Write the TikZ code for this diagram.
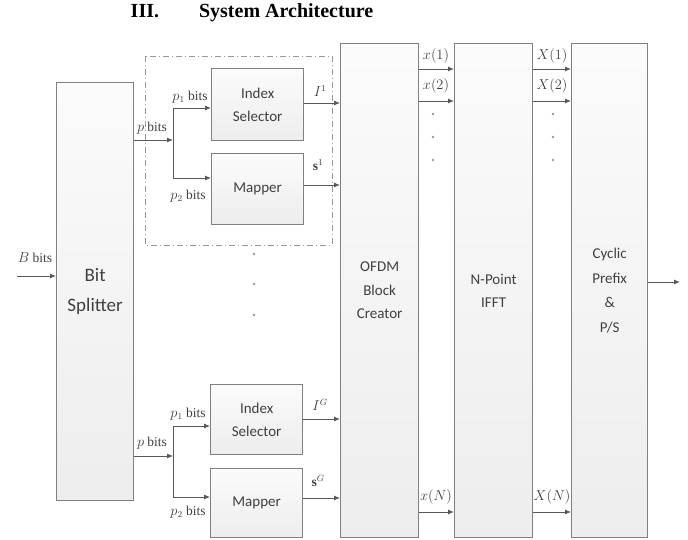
\documentclass[tikz,border=0pt]{standalone}
\usepackage{fontspec}
\setmainfont{Liberation Serif}
\newfontfamily\boxfont{Carlito}
\usetikzlibrary{arrows.meta}
\begin{document}
\begin{tikzpicture}[x=1pt,y=-1pt,
 blk/.style={draw=black!50, line width=1.3pt, top color=gray!3, bottom color=gray!14,
   anchor=north west, inner sep=0pt, align=center,
   font=\boxfont\fontsize{15}{23.5}\selectfont, text=black!75},
 conn/.style={draw=black!65, line width=0.9pt},
 arr/.style={conn, -{Latex[length=6pt,width=5pt]}},
 lbl/.style={font=\fontsize{13.5}{15}\selectfont, text=black!75, inner sep=0pt},
 dotm/.style={circle, fill=black!40, inner sep=0pt, minimum size=2.6pt},
 grp/.style={draw=black!40, line width=0.9pt, dash pattern=on 6pt off 3pt on 1pt off 3pt},
]
\fill[white] (0,0) rectangle (688,540);
\useasboundingbox (0,0) rectangle (688,540);

% title
\node[font=\bfseries\fontsize{20}{24}\selectfont, inner sep=0pt] (title) at (252,13) {III.\hspace{40pt}System Architecture};

% group frame
\draw[grp] (145,56) rectangle (332,245);

% blocks
\node[blk, minimum width=77pt, minimum height=418pt, font=\boxfont\fontsize{19}{30}\selectfont] (bs) at (56,82) {Bit\\Splitter};
\node[blk, minimum width=92pt, minimum height=72pt] (is1) at (211,68) {Index\\Selector};
\node[blk, minimum width=92pt, minimum height=71pt] (mp1) at (211,153) {Mapper};
\node[blk, minimum width=92pt, minimum height=70pt] (is2) at (210,384) {Index\\Selector};
\node[blk, minimum width=92pt, minimum height=69pt] (mp2) at (210,468) {Mapper};
\node[blk, minimum width=78pt, minimum height=494pt] (ofdm) at (340,43) {OFDM\\Block\\Creator};
\node[blk, minimum width=78pt, minimum height=494pt] (ifft) at (454,43) {N-Point\\IFFT};
\node[blk, minimum width=76pt, minimum height=494pt, font=\boxfont\fontsize{15}{24.5}\selectfont] (cp) at (571,43) {Cyclic\\Prefix\\\&\\P/S};

% input
\coordinate (bin) at (17,276);
\draw[arr] (bin) -- (bin -| bs.west);
\node[lbl] (blab) at (35,258) {$B$ bits};

% upper group connectors
\coordinate (j1) at (173,140);
\coordinate (j1a) at (173,108);
\coordinate (j1b) at (173,178);
\draw[arr] (bs.east |- j1) -- (j1);
\draw[conn] (j1a) -- (j1b);
\draw[arr] (j1a) -- (j1a -| is1.west);
\draw[arr] (j1b) -- (j1b -| mp1.west);
\coordinate (o1a) at (303,103);
\coordinate (o1b) at (303,185);
\draw[arr] (o1a -| is1.east) -- (o1a -| ofdm.west);
\draw[arr] (o1b -| mp1.east) -- (o1b -| ofdm.west);
\node[lbl] (pl1) at (152,128) {$p$ bits};
\node[lbl] (p1l1) at (190,97) {$p_1$ bits};
\node[lbl] (p2l1) at (188,196) {$p_2$ bits};
\node[lbl] (il1) at (320,91) {$I^1$};
\node[lbl] (sl1) at (318,165) {$\mathbf{s}^1$};

% lower group connectors
\coordinate (j2) at (173,456);
\coordinate (j2a) at (173,426);
\coordinate (j2b) at (173,497);
\draw[arr] (bs.east |- j2) -- (j2);
\draw[conn] (j2a) -- (j2b);
\draw[arr] (j2a) -- (j2a -| is2.west);
\draw[arr] (j2b) -- (j2b -| mp2.west);
\coordinate (o2a) at (303,419);
\coordinate (o2b) at (303,498);
\draw[arr] (o2a -| is2.east) -- (o2a -| ofdm.west);
\draw[arr] (o2b -| mp2.east) -- (o2b -| ofdm.west);
\node[lbl] (pl2) at (152,443) {$p$ bits};
\node[lbl] (p1l2) at (188,414) {$p_1$ bits};
\node[lbl] (p2l2) at (188,512) {$p_2$ bits};
\node[lbl] (il2) at (320,405) {$I^G$};
\node[lbl] (sl2) at (318,481) {$\mathbf{s}^G$};

% vertical dots between groups
\node[dotm] (vd1) at (254,254) {};
\node[dotm] (vd2) at (254,284) {};
\node[dotm] (vd3) at (254,315) {};

% OFDM -> IFFT
\coordinate (x1) at (418,69);
\coordinate (x2) at (418,101);
\coordinate (xn) at (418,512);
\draw[arr] (x1 -| ofdm.east) -- (x1 -| ifft.west);
\draw[arr] (x2 -| ofdm.east) -- (x2 -| ifft.west);
\draw[arr] (xn -| ofdm.east) -- (xn -| ifft.west);
\node[lbl] (xl1) at (436,56) {$x(1)$};
\node[lbl] (xl2) at (436,86) {$x(2)$};
\node[lbl] (xln) at (436,497) {$x(N)$};
\node[dotm] (xd1) at (433,114) {};
\node[dotm] (xd2) at (433,137) {};
\node[dotm] (xd3) at (433,160) {};

% IFFT -> CP
\draw[arr] (x1 -| ifft.east) -- (x1 -| cp.west);
\draw[arr] (x2 -| ifft.east) -- (x2 -| cp.west);
\draw[arr] (xn -| ifft.east) -- (xn -| cp.west);
\node[lbl] (Xl1) at (552,56) {$X(1)$};
\node[lbl] (Xl2) at (552,86) {$X(2)$};
\node[lbl] (Xln) at (552,497) {$X(N)$};
\node[dotm] (Xd1) at (553,114) {};
\node[dotm] (Xd2) at (553,137) {};
\node[dotm] (Xd3) at (553,160) {};

% output
\coordinate (out) at (680,282);
\draw[arr] (out -| cp.east) -- (out);
\end{tikzpicture}
\end{document}
